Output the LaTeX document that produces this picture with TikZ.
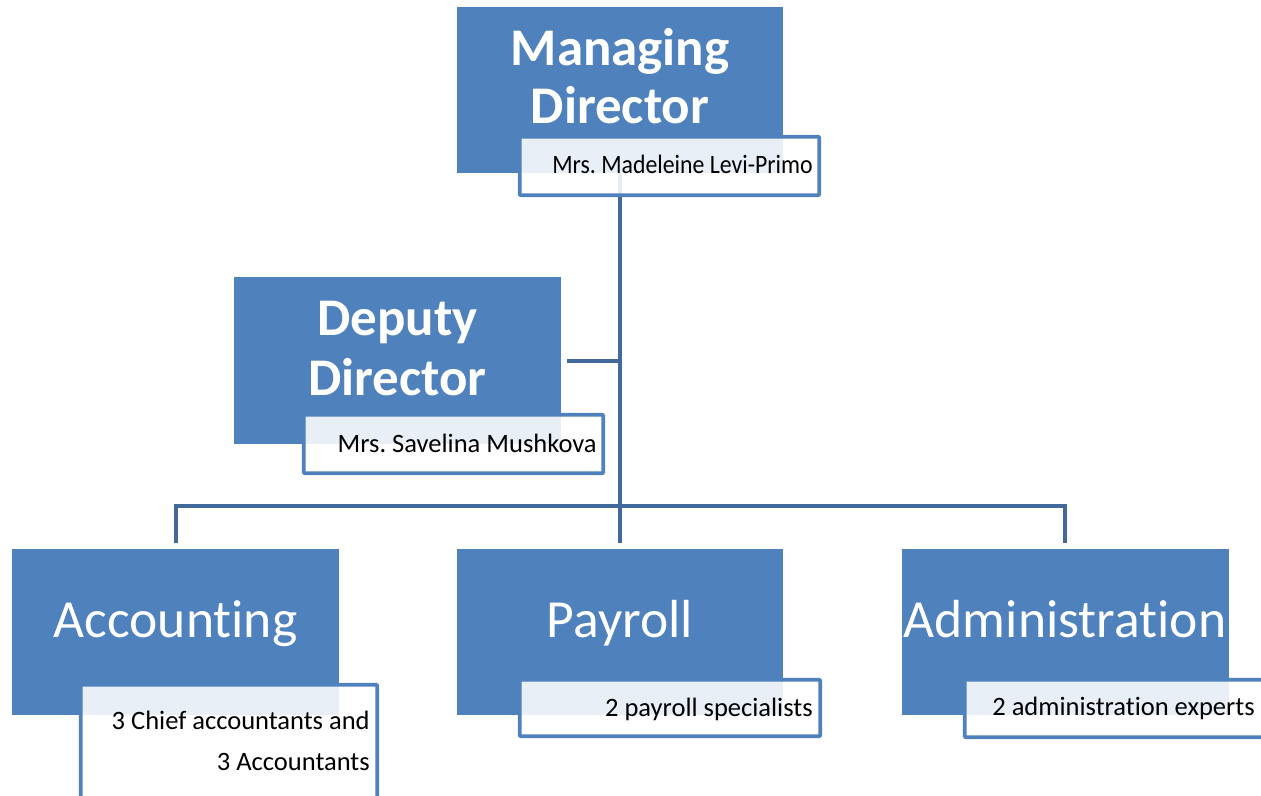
\documentclass[tikz,border=0pt]{standalone}
\usepackage{fontspec}
\setmainfont{Carlito}[Ligatures=NoCommon]
\frenchspacing
\definecolor{boxblue}{HTML}{4F81BD}
\definecolor{linkblue}{HTML}{41699B}
\begin{document}
\begin{tikzpicture}[x=0.75pt,y=-0.75pt,
  mainbox/.style 2 args={fill=boxblue, draw=none, anchor=north west, inner sep=0pt, outer sep=0pt,
    minimum width=#1*0.75pt, minimum height=#2*0.75pt},
  subbox/.style 2 args={fill=white, fill opacity=0.88, draw=boxblue, draw opacity=1, line width=2.7pt,
    rounded corners=0.75pt, anchor=north west, inner sep=0pt, outer sep=0pt,
    minimum width=#1*0.75pt, minimum height=#2*0.75pt},
  link/.style={draw=linkblue, line width=3pt},
  bigbold/.style={text=white, font=\fontsize{39.7}{47}\selectfont\bfseries, anchor=base, inner sep=0pt},
  bigreg/.style={text=white, font=\fontsize{40.2}{49}\selectfont, anchor=base, inner sep=0pt},
  smalltxt/.style={text=black, font=\fontsize{19.9}{24}\selectfont, anchor=base east, inner sep=0pt}]
\useasboundingbox (0,0) rectangle (1261,796);
\clip (0,0) rectangle (1261,796);
\fill[white] (0,0) rectangle (1261,796);

% main boxes
\node[mainbox={326}{166}] (md) at (457,7) {};
\node[mainbox={327}{167}] (dd) at (234,277) {};
\node[mainbox={327}{166}] (acc) at (12,549) {};
\node[mainbox={326}{166}] (pay) at (457,549) {};
\node[mainbox={327}{166}] (adm) at (902,549) {};

% connector points
\coordinate (bar) at (620,506);
\coordinate (accin) at (175.5,543);
\coordinate (payin) at (620,543);
\coordinate (admin) at (1065,543);
\coordinate (ddout) at (567,361);

% connectors
\draw[link] (md.south) -- (payin);
\draw[link] (accin) -- (accin |- bar) -- (admin |- bar) -- (admin);
\draw[link] (ddout) -- (ddout -| md.south);

% sub boxes
\node[subbox={299.5}{58.5}] (mds) at (519.75,136.75) {};
\node[subbox={299.5}{58.5}] (dds) at (303.75,414.75) {};
\node[subbox={296.5}{170}] (accs) at (80.75,684.75) {};
\node[subbox={300.5}{56.5}] (pays) at (519.75,679.75) {};
\node[subbox={336}{57.5}] (adms) at (964.75,679.75) {};

% big titles
\node[bigbold] (mdt1) at (620,65) {Managing};
\node[bigbold] (mdt2) at (620,123) {Director};
\node[bigbold] (ddt1) at (397.5,335) {Deputy};
\node[bigbold] (ddt2) at (397.5,395) {Director};
\node[bigreg] (acct) at (175.5,637) {Accounting};
\node[bigreg] (payt) at (620,637) {Payroll};
\node[bigreg] (admt) at (1065,637) {Administration};

% sub texts
\node[smalltxt] (mdn) at (813,173) {\scalebox{0.897}[1]{Mrs. Madeleine Levi-Primo}};
\node[smalltxt] (ddn) at (597,452) {Mrs. Savelina Mushkova};
\node[smalltxt] (accn1) at (370,729) {3 Chief accountants and};
\node[smalltxt] (accn2) at (370,770) {3 Accountants};
\node[smalltxt] (payn) at (813,716) {2 payroll specialists};
\node[smalltxt] (admn) at (1255,715) {2 administration experts};
\end{tikzpicture}
\end{document}
